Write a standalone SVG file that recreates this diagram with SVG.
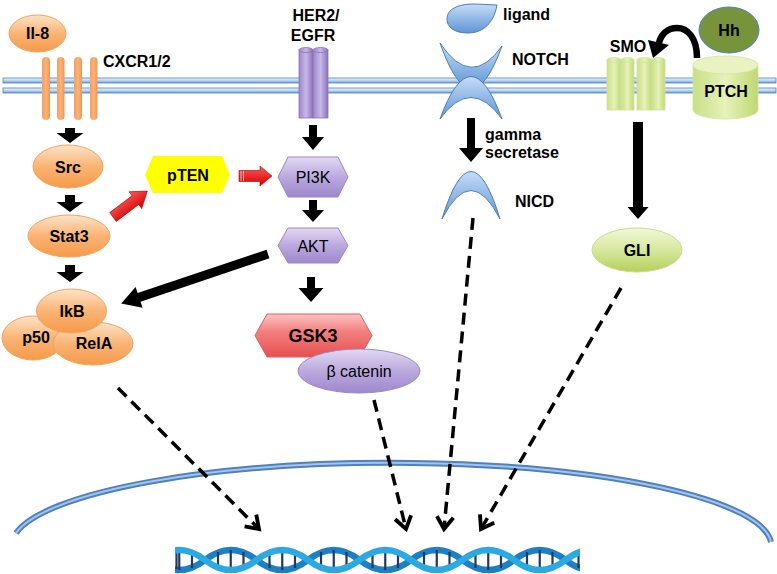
<svg xmlns="http://www.w3.org/2000/svg" width="777" height="574" viewBox="0 0 777 574">
<defs>
<style>
text{font-family:"Liberation Sans",Arial,sans-serif;font-weight:bold;font-size:16px;fill:#000}
.c{text-anchor:middle}
.n{font-weight:normal}
.mem{fill:url(#gMem);stroke:#4f81bd;stroke-width:0.8}
.or{fill:url(#gOr);stroke:#f2a35e;stroke-width:1}
.pu{fill:url(#gPu);stroke:#9a88c8;stroke-width:1}
.gr{fill:url(#gGr);stroke:#c9dc8e;stroke-width:1}
.bl{fill:url(#gBl);stroke:#4a7ebb;stroke-width:1}
.cyp{fill:url(#gCyP);stroke:#8a74b8;stroke-width:0.8}
.cyg{fill:url(#gCyG);stroke:#d2e3a0;stroke-width:0.8}
.blk{fill:#000}
.red{fill:url(#gRA);stroke:#b00000;stroke-width:0.6}
.dash{fill:none;stroke:#000;stroke-width:3.5;stroke-dasharray:12 7;marker-end:url(#chev)}
.rung{stroke:#1f3864;stroke-width:2.2}
</style>
<linearGradient id="gOr" x1="0" y1="0" x2="0" y2="1"><stop offset="0" stop-color="#fde3c8"/><stop offset="0.5" stop-color="#fab474"/><stop offset="1" stop-color="#f59a4a"/></linearGradient>
<linearGradient id="gPu" x1="0" y1="0" x2="0" y2="1"><stop offset="0" stop-color="#e2d9f3"/><stop offset="0.5" stop-color="#bba9de"/><stop offset="1" stop-color="#9d88cc"/></linearGradient>
<linearGradient id="gGr" x1="0" y1="0" x2="0" y2="1"><stop offset="0" stop-color="#f2f8d6"/><stop offset="0.5" stop-color="#d6e89e"/><stop offset="1" stop-color="#b5cf5c"/></linearGradient>
<linearGradient id="gBl" x1="0" y1="0" x2="0" y2="1"><stop offset="0" stop-color="#c6dcf5"/><stop offset="1" stop-color="#5f95d6"/></linearGradient>
<linearGradient id="gRed" x1="0" y1="0" x2="0" y2="1"><stop offset="0" stop-color="#fcc4c4"/><stop offset="0.4" stop-color="#f48080"/><stop offset="1" stop-color="#e65050"/></linearGradient>
<linearGradient id="gMem" x1="0" y1="0" x2="0" y2="1"><stop offset="0" stop-color="#eef5fc"/><stop offset="0.5" stop-color="#bcd5ef"/><stop offset="1" stop-color="#6f9fd8"/></linearGradient>
<linearGradient id="gRA" x1="0" y1="0" x2="0" y2="1"><stop offset="0" stop-color="#ff5a5a"/><stop offset="1" stop-color="#d00000"/></linearGradient>
<linearGradient id="gCyP" x1="0" y1="0" x2="1" y2="0"><stop offset="0" stop-color="#9c86c6"/><stop offset="0.5" stop-color="#c8b8e8"/><stop offset="1" stop-color="#8a72b8"/></linearGradient>
<linearGradient id="gCyG" x1="0" y1="0" x2="1" y2="0"><stop offset="0" stop-color="#c9df86"/><stop offset="0.5" stop-color="#e6f2b8"/><stop offset="1" stop-color="#bfd874"/></linearGradient>
<linearGradient id="gOrB" x1="0" y1="0" x2="1" y2="0"><stop offset="0" stop-color="#f3a060"/><stop offset="0.5" stop-color="#fab27a"/><stop offset="1" stop-color="#f29650"/></linearGradient>
<marker id="chev" markerUnits="userSpaceOnUse" markerWidth="22" markerHeight="22" refX="13" refY="9" orient="auto" viewBox="0 0 20 18"><path d="M2,1.5 L13,9 L2,16.5" fill="none" stroke="#000" stroke-width="3.5"/></marker>
<clipPath id="dnaClip"><rect x="175" y="544" width="405" height="30"/></clipPath>
</defs>

<g id="membrane">
<rect class="mem" x="3" y="78" width="773" height="5"/>
<rect class="mem" x="3" y="88" width="773" height="5"/>
</g>

<g id="nucleus">
<path d="M16,533 A380,83 0 0 1 771,542" fill="none" stroke="#4f81bd" stroke-width="6"/>
<path d="M16,533 A380,83 0 0 1 771,542" fill="none" stroke="#a3c4ec" stroke-width="2"/>
</g>

<g id="dna" clip-path="url(#dnaClip)">
<path d="M153.5,560 Q179.25,580 205,560 T256.5,560 T308,560 T359.5,560 T411,560 T462.5,560 T514,560 T565.5,560 T617,560" fill="none" stroke="#1d7fc4" stroke-width="6.5"/>
<g class="rung">
<line x1="166.5" y1="552" x2="166.5" y2="568"/><line x1="179.25" y1="550" x2="179.25" y2="570"/><line x1="192" y1="552" x2="192" y2="568"/>
<line x1="218" y1="552" x2="218" y2="568"/><line x1="230.75" y1="550" x2="230.75" y2="570"/><line x1="243.5" y1="552" x2="243.5" y2="568"/>
<line x1="269.5" y1="552" x2="269.5" y2="568"/><line x1="282.25" y1="550" x2="282.25" y2="570"/><line x1="295" y1="552" x2="295" y2="568"/>
<line x1="321" y1="552" x2="321" y2="568"/><line x1="333.75" y1="550" x2="333.75" y2="570"/><line x1="346.5" y1="552" x2="346.5" y2="568"/>
<line x1="372.5" y1="552" x2="372.5" y2="568"/><line x1="385.25" y1="550" x2="385.25" y2="570"/><line x1="398" y1="552" x2="398" y2="568"/>
<line x1="424" y1="552" x2="424" y2="568"/><line x1="436.75" y1="550" x2="436.75" y2="570"/><line x1="449.5" y1="552" x2="449.5" y2="568"/>
<line x1="475.5" y1="552" x2="475.5" y2="568"/><line x1="488.25" y1="550" x2="488.25" y2="570"/><line x1="501" y1="552" x2="501" y2="568"/>
<line x1="527" y1="552" x2="527" y2="568"/><line x1="539.75" y1="550" x2="539.75" y2="570"/><line x1="552.5" y1="552" x2="552.5" y2="568"/>
<line x1="578.5" y1="552" x2="578.5" y2="568"/><line x1="176.5" y1="551" x2="176.5" y2="569"/>
</g>
<path d="M153.5,560 Q179.25,540 205,560 T256.5,560 T308,560 T359.5,560 T411,560 T462.5,560 T514,560 T565.5,560 T617,560" fill="none" stroke="#2aa9e2" stroke-width="6.5"/>
</g>

<g id="connectors">
<polygon class="blk" points="65,128 75,128 75,133 83.5,133 70,143 56.5,133 65,133"/>
<polygon class="blk" points="65,195 75,195 75,202 83.5,202 70,212 56.5,202 65,202"/>
<polygon class="blk" points="65,265 75,265 75,272 83.5,272 70,282 56.5,272 65,272"/>
<polygon class="blk" points="309,125 317,125 317,137 324,137 313,150 302,137 309,137"/>
<polygon class="blk" points="309,200 317,200 317,210 324,210 313,222 302,210 309,210"/>
<polygon class="blk" points="307,277 315,277 315,288 323.5,288 311,302 298.5,288 307,288"/>
<polygon class="blk" points="467,118 475,118 475,148 483,148 471,162 459,148 467,148"/>
<polygon class="blk" points="633,122 643,122 643,207 648.5,207 638,219 627.5,207 633,207"/>
<polygon class="blk" transform="translate(268,254) rotate(161.4)" points="0,-4.5 136,-4.5 136,-11 155,0 136,11 136,4.5 0,4.5"/>
<path d="M697,58 C697,37 687,28 677,28 C667,28 661,35 659,43" fill="none" stroke="#000" stroke-width="6.5"/>
<polygon class="blk" points="648,40 669,45 653,58"/>
<polygon class="red" transform="translate(113,217) rotate(-37)" points="0,-5.5 28,-5.5 28,-10.5 43,0 28,10.5 28,5.5 0,5.5"/>
<polygon class="red" points="239,170.5 260,170.5 260,166 272,176 260,186 260,181.5 239,181.5"/>
<g stroke="#fff" stroke-width="0.8" opacity="0.8">
<line x1="241" y1="171" x2="241" y2="181"/><line x1="243.5" y1="171" x2="243.5" y2="181"/>
</g>
<path class="dash" d="M118,388 L259,529"/>
<path class="dash" d="M374,400 L406,529"/>
<path class="dash" d="M473,218 L444,529"/>
<path class="dash" d="M621,288 L481,529"/>
</g>

<g id="il8"><ellipse class="or" cx="37.5" cy="33.5" rx="28.5" ry="18.5"/><text class="c" x="37.5" y="39">Il-8</text></g>

<g id="cxcr">
<rect x="42" y="57" width="8" height="63" rx="4" fill="url(#gOrB)"/>
<rect x="57" y="57" width="7.5" height="63" rx="3.75" fill="url(#gOrB)"/>
<rect x="74" y="57" width="8" height="63" rx="4" fill="url(#gOrB)"/>
<rect x="90" y="57" width="7.5" height="63" rx="3.75" fill="url(#gOrB)"/>
<text x="103" y="67">CXCR1/2</text>
</g>

<g id="src"><ellipse class="or" cx="68" cy="166.5" rx="35" ry="21.5"/><text class="c" x="68" y="172.5">Src</text></g>
<g id="stat3"><ellipse class="or" cx="69" cy="236" rx="41" ry="21"/><text class="c" x="69" y="242">Stat3</text></g>
<g id="p50"><ellipse class="or" cx="33" cy="338" rx="31" ry="22"/><text class="c" x="36" y="343">p50</text></g>
<g id="rela"><ellipse class="or" cx="93" cy="343.5" rx="40" ry="21.5"/><text class="c" x="94" y="349">RelA</text></g>
<g id="ikb"><ellipse class="or" cx="71.5" cy="311" rx="35" ry="22"/><text class="c" x="72" y="317">IkB</text></g>

<g id="pten"><polygon points="145,175 153,156 222,156 230,175 222,193 153,193" fill="#ffff00"/><text class="c" x="188" y="181">pTEN</text></g>

<g id="her2">
<rect class="cyp" x="299" y="50" width="14" height="68"/>
<ellipse class="cyp" cx="306" cy="50" rx="7" ry="2.5"/>
<rect class="cyp" x="313" y="50" width="15" height="68"/>
<ellipse class="cyp" cx="320.5" cy="50" rx="7.5" ry="2.5"/>
<text class="c" x="316" y="21">HER2/</text>
<text class="c" x="313" y="41">EGFR</text>
</g>

<g id="pi3k"><polygon class="pu" points="278,177 288,157 338,157 348,177 338,197 288,197"/><text class="c n" x="313" y="182.5">PI3K</text></g>
<g id="akt"><polygon class="pu" points="278,245.5 288,228 338,228 348,245.5 338,263 288,263"/><text class="c n" x="313" y="251.5">AKT</text></g>
<g id="gsk3"><polygon points="255,335.5 267,314 360,314 372,335.5 360,357 267,357" fill="url(#gRed)" stroke="#e06060" stroke-width="1"/><text class="c" x="313" y="342" style="font-size:18px">GSK3</text></g>
<g id="bcat"><ellipse class="pu" cx="359" cy="371" rx="61" ry="22"/><text class="c n" x="359" y="377">β catenin</text></g>

<g id="ligand"><path class="bl" d="M497,5 C494,22 484,33 468,33 C454,33 447,27 447,19 C447,9 458,4 474,4 Z"/><text x="503" y="20">ligand</text></g>
<g id="notch">
<path class="bl" d="M440,43 Q471,132 502,46 Q471,90 440,43 Z"/>
<path class="bl" d="M440,119 Q471,34 502,119 Q471,76 440,119 Z"/>
<text x="512" y="65">NOTCH</text>
</g>
<g id="gamma"><text x="485" y="140">gamma</text><text x="485" y="158">secretase</text></g>
<g id="nicd"><path class="bl" d="M442,219 Q471,124 500,219 Q471,162 442,219 Z"/><text x="515" y="207">NICD</text></g>

<g id="smo">
<rect class="cyg" x="607" y="60" width="14" height="50"/><ellipse class="cyg" cx="614" cy="60" rx="7" ry="2.5"/>
<rect class="cyg" x="621" y="60" width="13" height="50"/><ellipse class="cyg" cx="627.5" cy="60" rx="6.5" ry="2.5"/>
<rect class="cyg" x="637" y="60" width="15" height="50"/><ellipse class="cyg" cx="644.5" cy="60" rx="7.5" ry="2.5"/>
<rect class="cyg" x="652" y="60" width="13" height="50"/><ellipse class="cyg" cx="658.5" cy="60" rx="6.5" ry="2.5"/>
<text class="c" x="628" y="52">SMO</text>
</g>
<g id="ptch">
<path d="M693,65 L693,110 A32.5,9 0 0 0 758,110 L758,65 Z" fill="url(#gCyG)" stroke="#d2e3a0" stroke-width="0.8"/>
<ellipse cx="725.5" cy="65" rx="32.5" ry="9" fill="#e9f3c2" stroke="#d2e3a0" stroke-width="0.8"/>
<text class="c" x="726" y="97">PTCH</text>
</g>
<g id="hh"><ellipse cx="729" cy="30" rx="30" ry="23" fill="#77933c" stroke="#4f81bd" stroke-width="1"/><text class="c" x="729" y="36">Hh</text></g>
<g id="gli"><ellipse class="gr" cx="637" cy="250" rx="45" ry="22"/><text class="c" x="637" y="256">GLI</text></g>
</svg>
